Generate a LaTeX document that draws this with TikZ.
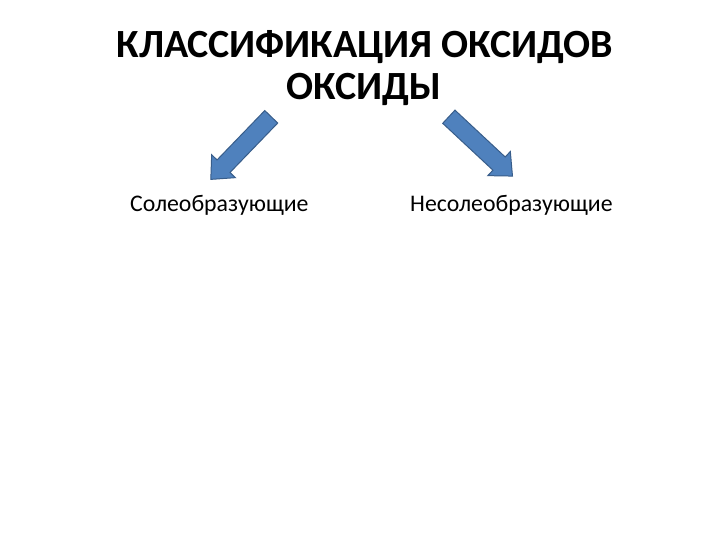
\documentclass[tikz,border=0pt]{standalone}
\usepackage{fontspec}
\setmainfont{Carlito}
\usetikzlibrary{shapes.arrows}

\definecolor{arrowfill}{HTML}{4F81BD}
\definecolor{arrowline}{HTML}{385D8A}

\begin{document}
\begin{tikzpicture}[x=1bp,y=-1bp,
  titletext/.style={anchor=base,inner sep=0pt,font=\fontsize{40bp}{42bp}\selectfont\bfseries},
  kindtext/.style={anchor=base west,inner sep=0pt,font=\fontsize{23.8bp}{26bp}\selectfont},
  blockarrow/.style={single arrow,draw=arrowline,fill=arrowfill,line width=1pt,
    inner xsep=0pt,inner ysep=8.5bp,minimum height=87bp,
    single arrow head extend=7.5bp,single arrow head indent=0pt,single arrow tip angle=84}]
%page
\useasboundingbox[fill=white] (0,0) rectangle (720,540);

%title
\node[titletext] (title) at (365,58) {КЛАССИФИКАЦИЯ ОКСИДОВ};
\node[titletext] (oxides) at (364,100) {ОКСИДЫ};

%arrows
\node[blockarrow,rotate=226] (leftarrow) at (244.5,144.5) {};
\node[blockarrow,rotate=317] (rightarrow) at (477,143) {};

%kinds
\node[kindtext] (saltforming) at (130,212) {Солеобразующие};
\node[kindtext] (nonsaltforming) at (410,212) {Несолеобразующие};

\end{tikzpicture}
\end{document}
